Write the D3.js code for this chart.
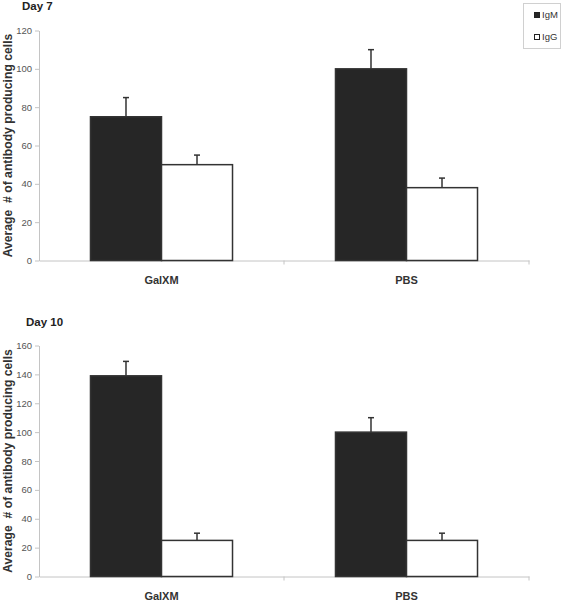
<!DOCTYPE html>
<html>
<head>
<meta charset="utf-8">
<script src="https://cdn.jsdelivr.net/npm/d3@7"></script>
<style>
  html, body { margin: 0; padding: 0; background: #fff; }
  svg { display: block; font-family: "Liberation Sans", Arial, sans-serif; }
</style>
</head>
<body>
<script>
// ---- data ----
const categories = ["GalXM", "PBS"];
const seriesNames = ["IgM", "IgG"];
const day7IgM = [75, 100];
const day7IgMErr = [10, 10];
const day7IgG = [50, 38];
const day7IgGErr = [5, 5];
const day10IgM = [139, 100];
const day10IgMErr = [10, 10];
const day10IgG = [25, 25];
const day10IgGErr = [5, 5];
const day7Ticks = [0, 20, 40, 60, 80, 100, 120];
const day10Ticks = [0, 20, 40, 60, 80, 100, 120, 140, 160];
const yTitle = "Average  # of antibody producing cells";

const W = 566, H = 601;
const svg = d3.select("body").append("svg").attr("width", W).attr("height", H);

const fills = { IgM: "#262626", IgG: "#ffffff" };

function panel(opts) {
  const g = svg.append("g");
  const x = d3.scaleBand().domain(categories).range([39, 529]).padding(0);
  const xs = d3.scaleBand().domain(seriesNames).range([0, x.bandwidth()]).paddingInner(0).paddingOuter(0.725);
  const y = d3.scaleLinear().domain([0, opts.max]).range([opts.y0, opts.y1]);

  // title
  g.append("text").attr("x", opts.titleX).attr("y", opts.titleY)
    .attr("font-size", 11.5).attr("font-weight", "bold").attr("fill", "#222")
    .text(opts.title);

  // y axis
  const ya = g.append("g").attr("transform", "translate(39,0)")
    .call(d3.axisLeft(y).tickValues(opts.ticks).tickSize(4).tickPadding(3).tickSizeOuter(0));
  ya.select(".domain").attr("stroke", "#c4c4c4");
  ya.selectAll(".tick line").attr("stroke", "#c4c4c4");
  ya.selectAll(".tick text").attr("fill", "#555").attr("font-size", 9.5)
    .attr("font-family", "Liberation Sans, Arial, sans-serif");

  // x axis baseline
  const xa = g.append("g").attr("transform", `translate(0,${opts.y0})`)
    .call(d3.axisBottom(x).tickValues([]).tickSizeOuter(0));
  xa.select(".domain").attr("stroke", "#c4c4c4");
  // category separators
  g.selectAll(".sep").data(categories).enter().append("line")
    .attr("x1", d => x(d) + x.bandwidth()).attr("x2", d => x(d) + x.bandwidth())
    .attr("y1", opts.y0).attr("y2", opts.y0 + 4).attr("stroke", "#c4c4c4");

  // category labels
  g.selectAll(".cat").data(categories).enter().append("text")
    .attr("x", d => x(d) + x.bandwidth() / 2).attr("y", opts.catY)
    .attr("text-anchor", "middle").attr("font-size", 11).attr("font-weight", "bold").attr("fill", "#333")
    .text(d => d);

  // y title
  g.append("text")
    .attr("transform", `translate(11.5,${(opts.y0 + opts.y1) / 2}) rotate(-90)`)
    .attr("text-anchor", "middle").attr("font-size", 12.2).attr("font-weight", "bold").attr("fill", "#333")
    .style("white-space", "pre").attr("xml:space", "preserve")
    .text(yTitle);

  // bars
  const rows = [];
  categories.forEach((c, i) => {
    rows.push({ c, s: "IgM", v: opts.igm[i], e: opts.igmErr[i] });
    rows.push({ c, s: "IgG", v: opts.igg[i], e: opts.iggErr[i] });
  });
  g.selectAll(".bar").data(rows).enter().append("rect")
    .attr("x", d => x(d.c) + xs(d.s))
    .attr("y", d => y(d.v))
    .attr("width", xs.bandwidth())
    .attr("height", d => y(0) - y(d.v))
    .attr("fill", d => fills[d.s])
    .attr("stroke", "#333").attr("stroke-width", 1.5);

  // error bars
  const eb = g.selectAll(".err").data(rows).enter().append("g");
  eb.append("line")
    .attr("x1", d => x(d.c) + xs(d.s) + xs.bandwidth() / 2)
    .attr("x2", d => x(d.c) + xs(d.s) + xs.bandwidth() / 2)
    .attr("y1", d => y(d.v)).attr("y2", d => y(d.v + d.e))
    .attr("stroke", "#333").attr("stroke-width", 1.5);
  eb.append("line")
    .attr("x1", d => x(d.c) + xs(d.s) + xs.bandwidth() / 2 - 3)
    .attr("x2", d => x(d.c) + xs(d.s) + xs.bandwidth() / 2 + 3)
    .attr("y1", d => y(d.v + d.e)).attr("y2", d => y(d.v + d.e))
    .attr("stroke", "#333").attr("stroke-width", 1.5);
}

panel({ title: "Day 7", titleX: 22, titleY: 10, max: 120, ticks: day7Ticks,
  y0: 260.5, y1: 30.5, catY: 284, igm: day7IgM, igmErr: day7IgMErr, igg: day7IgG, iggErr: day7IgGErr });
panel({ title: "Day 10", titleX: 26, titleY: 326, max: 160, ticks: day10Ticks,
  y0: 576.5, y1: 345.5, catY: 600, igm: day10IgM, igmErr: day10IgMErr, igg: day10IgG, iggErr: day10IgGErr });

// legend
const lg = svg.append("g");
lg.append("rect").attr("x", 523.5).attr("y", 3.5).attr("width", 37).attr("height", 45)
  .attr("fill", "#fff").attr("stroke", "#d0d0d0");
const legY = d3.scalePoint().domain(seriesNames).range([15, 37]);
lg.selectAll(".sw").data(seriesNames).enter().append("rect")
  .attr("x", 534.5).attr("y", d => legY(d) - 2.5).attr("width", 5).attr("height", 5)
  .attr("fill", d => fills[d]).attr("stroke", "#222").attr("stroke-width", 1);
lg.selectAll(".lt").data(seriesNames).enter().append("text")
  .attr("x", 542).attr("y", d => legY(d) + 3.3)
  .attr("font-size", 9.5).attr("fill", "#333").text(d => d);
</script>
</body>
</html>
